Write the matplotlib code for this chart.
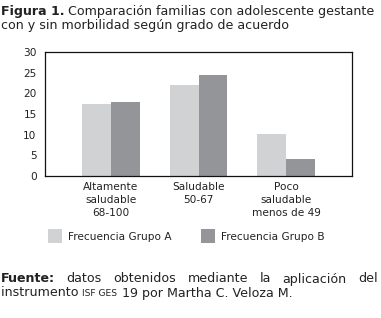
import matplotlib
matplotlib.use('Agg')
import numpy as np
import matplotlib.pyplot as plt
from matplotlib.patches import Rectangle

categories = ['Altamente\nsaludable\n68-100', 'Saludable\n50-67', 'Poco\nsaludable\nmenos de 49']
grupo_a = [17.5, 22, 10.2]
grupo_b = [18, 24.5, 4]
series_labels = ['Frecuencia Grupo A', 'Frecuencia Grupo B']
yticks = [0, 5, 10, 15, 20, 25, 30]

col_a = '#d1d2d4'
col_b = '#939598'
txt = '#222222'

plt.rcParams['font.family'] = ['DejaVu Sans']

W, H = 381, 318
fig = plt.figure(figsize=(W / 100, H / 100), dpi=100)

def px(x, y):
    return x / W, 1 - y / H

# axes box: left 45, right 352, top 52, bottom 176
ax = fig.add_axes([45 / W, 1 - 176 / H, (352 - 45) / W, (176 - 52) / H])
x = np.arange(len(categories))
bw = 0.33
ax.bar(x - bw / 2, grupo_a, bw, color=col_a, linewidth=0)
ax.bar(x + bw / 2, grupo_b, bw, color=col_b, linewidth=0)
ax.set_xlim(-0.75, 2.75)
ax.set_ylim(0, 30)
ax.set_yticks(yticks)
ax.set_xticks(x)
ax.set_xticklabels(categories, fontsize=7.6, color=txt, linespacing=1.4)
ax.tick_params(axis='both', length=0, labelsize=7.6, colors=txt)
ax.tick_params(axis='y', pad=6)
ax.tick_params(axis='x', pad=4)
for s in ax.spines.values():
    s.set_linewidth(0.9)
    s.set_color('#111111')

# legend
for lab, col, x0 in zip(series_labels, [col_a, col_b], [48, 201]):
    fig.patches.append(Rectangle(px(x0, 243), 14 / W, 14 / H, transform=fig.transFigure,
                                 facecolor=col, edgecolor='none'))
    fig.text(*px(x0 + 20, 237), lab, fontsize=7.6, color=txt, va='center', ha='left')

fig.canvas.draw()
r = fig.canvas.get_renderer()

def width_px(t):
    return t.get_window_extent(renderer=r).width

# title
fs_t = 9.1
t1 = fig.text(*px(1, 11), 'Figura 1.', fontsize=fs_t, fontweight='bold', color=txt, va='center')
fig.canvas.draw()
w1 = width_px(t1)
fig.text(*px(1 + w1 + 3, 11), 'Comparación familias con adolescente gestante',
         fontsize=fs_t, color=txt, va='center')
fig.text(*px(1, 25), 'con y sin morbilidad según grado de acuerdo', fontsize=fs_t, color=txt, va='center')

# footer, first line justified
fs_f = 9.1
words = [('Fuente:', 'bold'), ('datos', 'normal'), ('obtenidos', 'normal'), ('mediante', 'normal'),
         ('la', 'normal'), ('aplicación', 'normal'), ('del', 'normal')]
objs = [fig.text(0, 0, w, fontsize=fs_f, fontweight=fw, color=txt, va='center') for w, fw in words]
fig.canvas.draw()
widths = [width_px(o) for o in objs]
x_start, x_end = 1, 378
gap = (x_end - x_start - sum(widths)) / (len(words) - 1)
cur = x_start
for o, w in zip(objs, widths):
    o.set_position(px(cur, 279))
    cur += w + gap

# second line with small caps acronym
a = fig.text(*px(1, 293), 'instrumento ', fontsize=fs_f, color=txt, va='center')
fig.canvas.draw()
cur = 1 + width_px(a)
b = fig.text(*px(cur, 294), 'ISF GES', fontsize=6.6, color=txt, va='center')
fig.canvas.draw()
cur += width_px(b)
fig.text(*px(cur, 293), ' 19 por Martha C. Veloza M.', fontsize=fs_f, color=txt, va='center')

fig.savefig('out.png', dpi=100)
